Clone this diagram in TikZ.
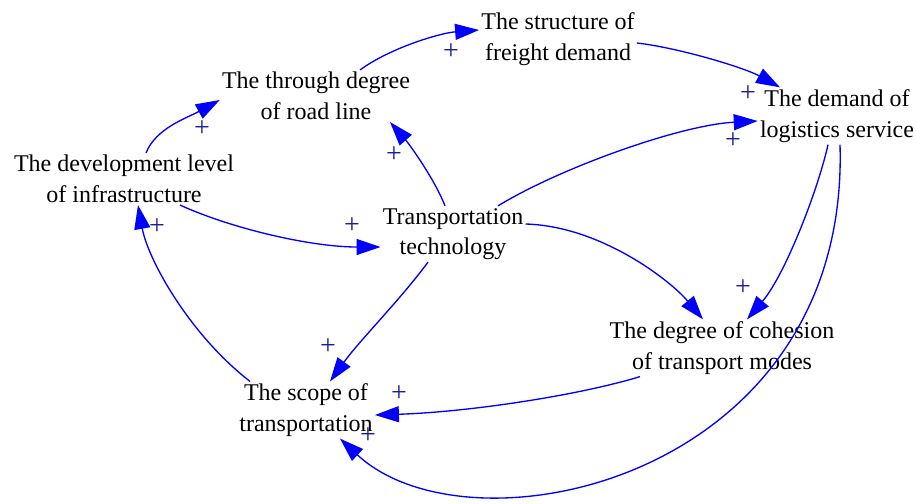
\documentclass[tikz,border=0pt]{standalone}
\usepackage{fontspec}
\setmainfont{Liberation Serif}
\usetikzlibrary{arrows.meta,calc}
\definecolor{linkblue}{RGB}{0,0,255}
\definecolor{plusblue}{RGB}{30,30,150}
\tikzset{
  var/.style={font=\fontsize{18}{23}\selectfont, align=center, inner sep=1.5pt},
  link/.style={draw=linkblue, line width=1pt, -{Triangle[length=18pt,width=12pt]}},
  pol/.style={text=plusblue, font=\fontsize{21}{21}\selectfont, inner sep=0pt}
}
\begin{document}
\begin{tikzpicture}[x=0.75pt,y=-0.75pt]
\useasboundingbox (0,0) rectangle (916,503);
% variables
\node[var] (struct) at (558,39) {The structure of\\freight demand};
\node[var] (tdeg) at (316,96) {The through degree\\of road line};
\node[var] (demand) at (837,116) {The demand of\\logistics service};
\node[var] (dev) at (124,179) {The development level\\of infrastructure};
\node[var] (tech) at (453,234) {Transportation\\technology};
\node[var] (coh) at (722,348) {The degree of cohesion\\of transport modes};
\node[var] (scope) at (306,410) {The scope of\\transportation};
% links
\draw[link] ($(dev.north)+(22,0)$) .. controls (156,128) and (187,118) .. ($(tdeg.west)+(0,4)$);
\draw[link] ($(tdeg.north)+(44,0)$) .. controls (390,48) and (440,33) .. ($(struct.west)+(0,-9)$);
\draw[link] ($(struct.east)+(0,4)$) .. controls (680,48) and (745,68) .. ($(demand.north)+(-57,0)$);
\draw[link] ($(tech.north)+(45,0)$) .. controls (560,168) and (680,125) .. ($(demand.west)+(0,5)$);
\draw[link] ($(tech.north)+(-8,0)$) .. controls (435,180) and (410,145) .. ($(tdeg.south)+(74,0)$);
\draw[link] ($(dev.south)+(56,0)$) .. controls (230,228) and (310,247) .. ($(tech.west)+(0,13)$);
\draw[link] ($(tech.east)+(0,-10)$) .. controls (600,226) and (670,280) .. ($(coh.north)+(-19,0)$);
\draw[link] ($(demand.south)+(-9,0)$) .. controls (818,190) and (785,275) .. ($(coh.north)+(25,0)$);
\draw[link] ($(demand.south)+(3,0)$) .. controls (850,480) and (470,560) .. ($(scope.south)+(34,0)$);
\draw[link] ($(coh.south)+(-82,0)$) .. controls (580,395) and (470,412) .. ($(scope.east)+(0,5)$);
\draw[link] ($(tech.south)+(-25,0)$) .. controls (400,300) and (360,340) .. ($(scope.north)+(24,0)$);
\draw[link] ($(scope.north)+(-56,0)$) .. controls (190,335) and (148,260) .. ($(dev.south)+(14,0)$);
% polarities
\node[pol] (p1) at (202,129) {+};
\node[pol] (p2) at (451,52) {+};
\node[pol] (p3) at (748,94) {+};
\node[pol] (p4) at (733,141) {+};
\node[pol] (p5) at (394,155) {+};
\node[pol] (p6) at (352,226) {+};
\node[pol] (p7) at (157,227) {+};
\node[pol] (p8) at (743,288) {+};
\node[pol] (p9) at (328,347) {+};
\node[pol] (p10) at (399,394) {+};
\node[pol] (p11) at (368,436) {+};
\end{tikzpicture}
\end{document}
